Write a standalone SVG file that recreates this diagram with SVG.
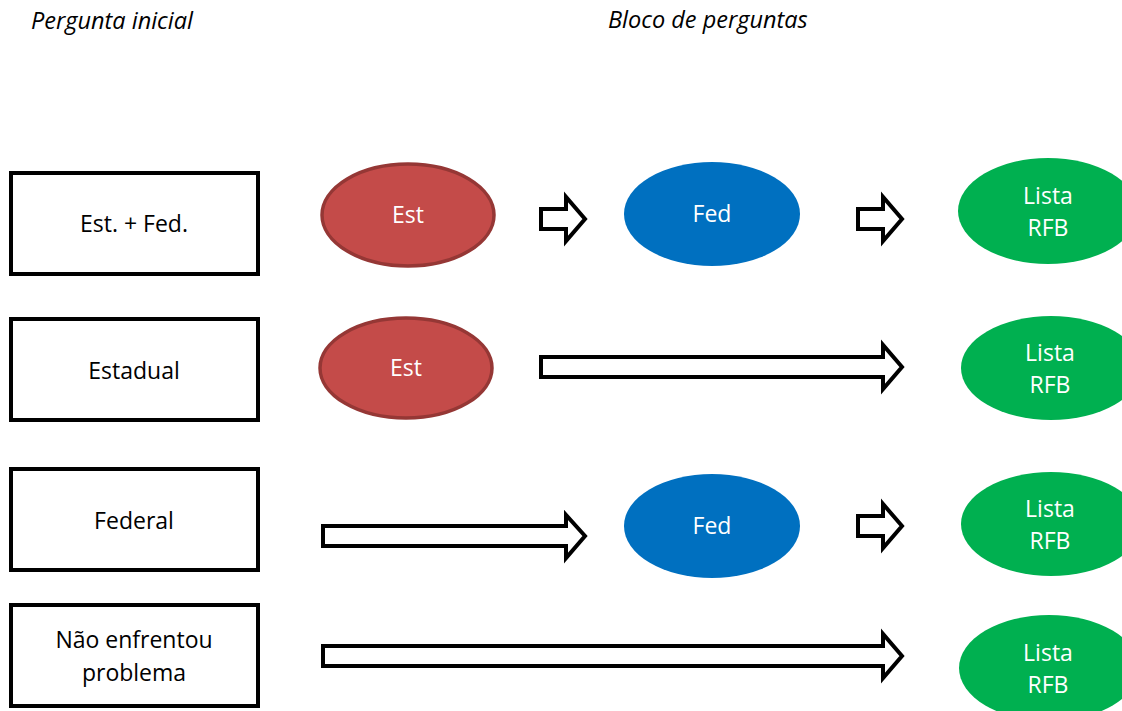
<svg xmlns="http://www.w3.org/2000/svg" width="1122" height="711" viewBox="0 0 1122 711">
<style>
text{font-family:"Open Sans","Noto Sans",sans-serif;font-size:23px;text-anchor:middle}
.hdr{font-style:italic;text-anchor:start;fill:#000;font-size:23.5px}
.box rect{fill:#fff;stroke:#000;stroke-width:4}
.box text{fill:#000}
.est ellipse{fill:#C44B49;stroke:#953735;stroke-width:3.5}
.fed ellipse{fill:#0070C0}
.rfb ellipse{fill:#00B050}
.lbl{fill:#fff}
.arr path{fill:#fff;stroke:#000;stroke-width:4;stroke-linejoin:miter}
</style>
<text class="hdr" x="31" y="29">Pergunta inicial</text>
<text class="hdr" x="608" y="28">Bloco de perguntas</text>

<g id="box1" class="box"><rect x="11" y="173" width="247" height="101"/><text x="134" y="232">Est. + Fed.</text></g>
<g id="box2" class="box"><rect x="11" y="319" width="247" height="101"/><text x="134" y="379">Estadual</text></g>
<g id="box3" class="box"><rect x="11" y="469" width="247" height="101"/><text x="134" y="529">Federal</text></g>
<g id="box4" class="box"><rect x="11" y="605" width="247" height="101"/><text x="134" y="648">Não enfrentou</text><text x="134" y="681">problema</text></g>

<g id="est1" class="est"><ellipse cx="408" cy="215" rx="86" ry="51"/><text class="lbl" x="408" y="223">Est</text></g>
<g id="est2" class="est"><ellipse cx="406" cy="368" rx="86" ry="50"/><text class="lbl" x="406" y="376">Est</text></g>
<g id="fed1" class="fed"><ellipse cx="712" cy="214" rx="88" ry="52"/><text class="lbl" x="712" y="222">Fed</text></g>
<g id="fed2" class="fed"><ellipse cx="712" cy="526" rx="88" ry="52"/><text class="lbl" x="712" y="534">Fed</text></g>

<g id="rfb1" class="rfb"><ellipse cx="1048" cy="211" rx="90" ry="53"/><text class="lbl" x="1048" y="204">Lista</text><text class="lbl" x="1048" y="236">RFB</text></g>
<g id="rfb2" class="rfb"><ellipse cx="1051" cy="368" rx="90" ry="52"/><text class="lbl" x="1050" y="361">Lista</text><text class="lbl" x="1050" y="393">RFB</text></g>
<g id="rfb3" class="rfb"><ellipse cx="1051" cy="524" rx="90" ry="52"/><text class="lbl" x="1050" y="517">Lista</text><text class="lbl" x="1050" y="549">RFB</text></g>
<g id="rfb4" class="rfb"><ellipse cx="1049" cy="668" rx="90" ry="53"/><text class="lbl" x="1048" y="661">Lista</text><text class="lbl" x="1048" y="693">RFB</text></g>

<g id="connectors" class="arr">
<path d="M541 209 H566 V197 L585 219 L566 241 V229 H541 Z"/>
<path d="M858 209 H883 V197 L902 219 L883 241 V229 H858 Z"/>
<path d="M541 357 H883 V345 L902 367 L883 389 V377 H541 Z"/>
<path d="M323 526 H566 V515 L585 536 L566 558 V546 H323 Z"/>
<path d="M858 516 H883 V504 L902 526 L883 548 V536 H858 Z"/>
<path d="M323 646 H883 V634 L902 656 L883 678 V666 H323 Z"/>
</g>
</svg>
